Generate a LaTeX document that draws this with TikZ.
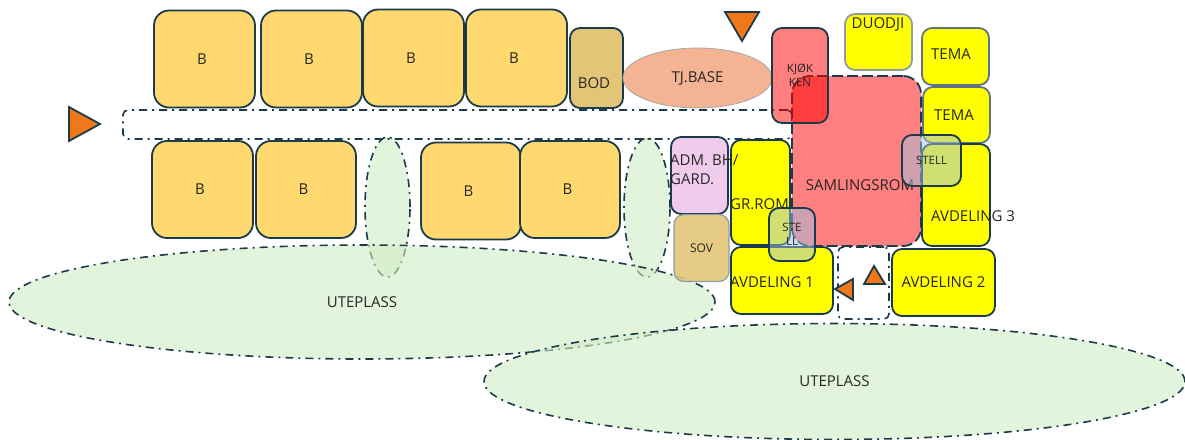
\documentclass[tikz,border=0pt]{standalone}
\usepackage{fontspec}
\setmainfont{Open Sans}
\usetikzlibrary{arrows.meta,positioning,shapes.geometric,calc}
\definecolor{edge}{HTML}{1B3A4B}
\definecolor{gulbolig}{HTML}{FFD970}
\definecolor{brun}{HTML}{E3C578}
\definecolor{laks}{HTML}{F4B493}
\definecolor{rosa}{HTML}{F0CCEC}
\definecolor{rod}{HTML}{FF8080}
\definecolor{gul}{HTML}{FFFF00}
\definecolor{gronn}{HTML}{D0EDC5}
\definecolor{oransje}{HTML}{F07818}
\definecolor{stellbla}{HTML}{A1C1E0}
\newcommand{\btxt}{B\kern5pt}
\begin{document}
\begin{tikzpicture}[
  x=1pt, y=-1pt,
  every node/.style={font=\fontsize{15}{19}\selectfont, text=black!85, inner sep=0pt, align=center},
  rom/.style={draw=edge, line width=1.8pt, rounded corners=10pt, anchor=center},
  bolig/.style={rom, fill=gulbolig, minimum width=101pt, minimum height=97pt, rounded corners=15pt},
  avd/.style={rom, fill=gul},
  stell/.style={rom, fill=stellbla, fill opacity=0.5, text opacity=1, font=\fontsize{11.5}{14}\selectfont},
  sone/.style={draw=edge, line width=1.6pt, dash pattern=on 8pt off 5pt on 2pt off 5pt},
  ute/.style={sone, ellipse, fill=gronn, fill opacity=0.6, text opacity=1},
  pil/.style={draw=edge, line width=1.8pt, fill=oransje, line join=miter}
]
\useasboundingbox (0,0) rectangle (1185,439);

%% Uteplass
\node[ute, minimum width=45pt, minimum height=140pt]  (gap1) at (387.5,207) {};
\node[ute, minimum width=46pt, minimum height=139pt]  (gap2) at (647,207.5) {};
\node[ute, minimum width=706pt, minimum height=114pt] (ute1) at (362,302) {UTEPLASS};
\node[ute, minimum width=701pt, minimum height=116pt] (ute2) at (834.5,381.5) {UTEPLASS};

%% Korridor og inngang
\node[sone, rounded corners=5pt, minimum width=669pt, minimum height=29pt] (gang) at (457.5,124.5) {};
\node[sone, rounded corners=5pt, minimum width=51pt, minimum height=72pt]  (vest) at (863.5,283) {};

%% Boliger
\node[bolig] (b1) at (204.5,59) {\btxt};
\node[bolig] (b2) at (311.5,59) {\btxt};
\node[bolig] (b3) at (413.5,58) {\btxt};
\node[bolig] (b4) at (516.5,58) {\btxt};
\node[bolig] (b5) at (202.5,189.5) {\btxt};
\node[bolig, minimum width=100pt] (b6) at (306,189.5) {\btxt};
\node[bolig, minimum width=100pt] (b7) at (471,191) {\btxt};
\node[bolig, minimum width=100pt] (b8) at (570,189.5) {\btxt};

%% Rom
\node[rom, fill=brun, minimum width=53pt, minimum height=80pt] (bod) at (596.5,68) {};
\node (bodtxt) at (594,83) {BOD};
\node[ellipse, draw=gray!70, line width=0.8pt, fill=laks, minimum width=149pt, minimum height=60pt] (tj) at (697.5,78) {TJ.BASE};
\node[rom, fill=rod, dash pattern=on 11pt off 4pt, minimum width=129pt, minimum height=170pt, rounded corners=18pt] (saml) at (856.5,161) {};
\node (samltxt) at (860,185) {SAMLINGSROM};
\node[rom, fill=red, fill opacity=0.5, text opacity=1, minimum width=56pt, minimum height=95pt, font=\fontsize{11.5}{14}\selectfont] (kjok) at (800,75.5) {KJØK\\KEN};
\node[avd, draw=edge!50, minimum width=67pt, minimum height=56pt] (duo) at (878.5,42) {};
\node (duotxt) at (878,24) {DUODJI};
\node[avd, draw=edge!70, minimum width=67pt, minimum height=57pt] (tema1) at (955.5,56.5) {};
\node (tema1txt) at (951,54) {TEMA};
\node[avd, draw=edge!70, minimum width=67pt, minimum height=56pt] (tema2) at (956.5,115) {};
\node (tema2txt) at (954,115) {TEMA};
\node[avd, minimum width=68pt, minimum height=102pt] (avd3) at (956,195) {};
\node[anchor=west] (avd3txt) at (931,216) {AVDELING 3};
\node[rom, fill=rosa, minimum width=57pt, minimum height=77pt] (adm) at (699.5,175.5) {};
\node[rom, fill=brun, fill opacity=0.9, text opacity=1, draw=edge!50, line width=1.2pt, minimum width=55pt, minimum height=67pt, font=\fontsize{12}{14}\selectfont] (sov) at (701.5,248) {SOV};
\node[avd, minimum width=59pt, minimum height=105pt] (gr) at (760.5,192.5) {};
\node[anchor=west, align=left] (admtxt) at (670,169.5) {ADM. BH/\\GARD.};
\node[anchor=west] (grtxt) at (730,204) {GR.ROM};
\node[avd, minimum width=102pt, minimum height=67pt] (avd1) at (782,280.5) {};
\node[anchor=west] (avd1txt) at (730,282) {AVDELING 1};
\node[avd, minimum width=103pt, minimum height=67pt] (avd2) at (943.5,282.5) {AVDELING 2};
\node[stell, minimum width=59pt, minimum height=51pt] (stell1) at (931.5,160.5) {STELL};
\node[stell, minimum width=46pt, minimum height=53pt] (stell2) at (792,234.5) {STE\\LL};

%% Inngangspiler
\draw[pil] (725,12) -- (759,12) -- (742,41) -- cycle;
\draw[pil] (69,107) -- (100,124) -- (69,141) -- cycle;
\draw[pil] (835,289) -- (853,279) -- (853,300) -- cycle;
\draw[pil] (874,266) -- (885,284) -- (864,284) -- cycle;
\end{tikzpicture}
\end{document}
